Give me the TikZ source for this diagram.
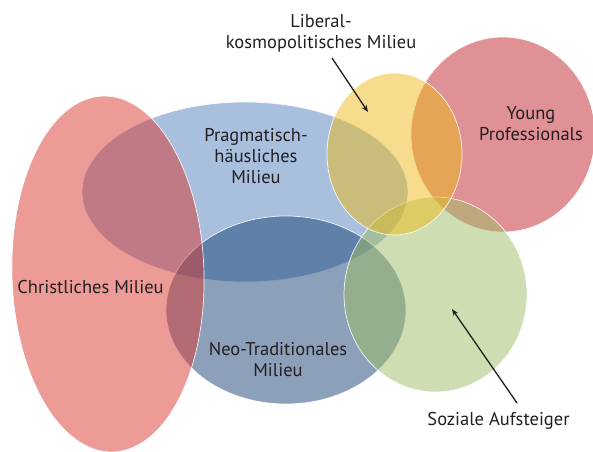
\documentclass[tikz,border=0pt]{standalone}
\usepackage{fontspec}
\setmainfont{PT Sans}
\usetikzlibrary{arrows.meta}
\definecolor{cRed}{RGB}{217,55,45}
\definecolor{cBlue}{RGB}{81,129,189}
\definecolor{cNavy}{RGB}{25,65,115}
\definecolor{cYellow}{RGB}{237,185,25}
\definecolor{cPink}{RGB}{193,35,45}
\definecolor{cGreen}{RGB}{157,189,101}
\definecolor{txt}{RGB}{35,31,32}
\tikzset{
  blob/.style={fill=#1, fill opacity=0.5, draw=white, draw opacity=0.9, line width=0.7pt},
  lbl/.style={text=txt, align=center, anchor=base, inner sep=0pt, font=\fontsize{18.5}{20.8}\selectfont},
  ptr/.style={draw=txt, line width=1.3pt, -{Stealth[length=7pt,width=5.5pt]}}
}
\begin{document}
\begin{tikzpicture}[x=1pt,y=-1pt]
\useasboundingbox (0,0) rectangle (593,451);
% shapes
\path[blob=cBlue] (245,192) ellipse [x radius=163, y radius=90];
\path[blob=cNavy] (286,310) ellipse [x radius=120, y radius=94];
\path[blob=cRed, rotate around={1.6:(108,274)}] (108,274) ellipse [x radius=96, y radius=178];
\path[blob=cPink] (503,134.5) ellipse [x radius=92, y radius=97.5];
\path[blob=cGreen] (435.5,294.5) ellipse [x radius=91.5, y radius=97.5];
\path[blob=cYellow] (394.5,154) ellipse [x radius=67.5, y radius=81];
% labels (anchor at baseline of last line)
\node[lbl] (lib) at (321,48) {Liberal-\\kosmopolitisches Milieu};
\node[lbl] (yp) at (531,140) {Young\\Professionals};
\node[lbl] (prag) at (256,183) {Pragmatisch-\\häusliches\\Milieu};
\node[lbl] (neo) at (278,376) {Neo-Traditionales\\Milieu};
\node[lbl] (chr) at (90.5,293) {Christliches Milieu};
\node[lbl] (soz) at (498.5,425) {Soziale Aufsteiger};
% arrows
\coordinate (libfrom) at (332,58);
\coordinate (libto) at (368,112);
\coordinate (sozfrom) at (517,403);
\coordinate (sozto) at (452,309);
\draw[ptr] (libfrom) -- (libto);
\draw[ptr] (sozfrom) -- (sozto);
\end{tikzpicture}
\end{document}
